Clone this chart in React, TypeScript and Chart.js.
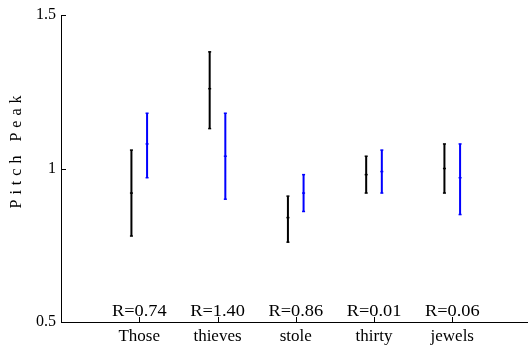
import React, { useEffect, useRef } from "react";
import { Chart, registerables } from "chart.js";
Chart.register(...registerables);

const categories = ["Those", "thieves", "stole", "thirty", "jewels"];
const rLabels = ["R=0.74", "R=1.40", "R=0.86", "R=0.01", "R=0.06"];
const blackLow = [0.78, 1.13, 0.76, 0.92, 0.92];
const blackMid = [0.92, 1.26, 0.84, 0.98, 1.0];
const blackHigh = [1.06, 1.38, 0.91, 1.04, 1.08];
const blueLow = [0.97, 0.9, 0.86, 0.92, 0.85];
const blueMid = [1.08, 1.04, 0.92, 0.99, 0.97];
const blueHigh = [1.18, 1.18, 0.98, 1.06, 1.08];
const yTicks = [0.5, 1, 1.5];
const rLabelY = 0.52;

const FONT = "Liberation Serif, Times New Roman, serif";

function buildSeries(low: number[], mid: number[], high: number[], offset: number) {
  const pts: { x: number; y: number | null }[] = [];
  low.forEach((lo, i) => {
    const x = i + 1 + offset;
    pts.push({ x, y: lo }, { x, y: mid[i] }, { x, y: high[i] }, { x, y: null });
  });
  return pts;
}

const decorPlugin = {
  id: "decor",
  afterDraw(chart: any) {
    const ctx = chart.ctx;
    const xs = chart.scales.x;
    const ys = chart.scales.y;
    const area = chart.chartArea;
    ctx.save();
    ctx.strokeStyle = "#000";
    ctx.lineWidth = 1;
    ctx.beginPath();
    yTicks.forEach((v) => {
      const py = Math.round(ys.getPixelForValue(v)) + 0.5;
      ctx.moveTo(area.left, py);
      ctx.lineTo(area.left + 5, py);
    });
    categories.forEach((_, i) => {
      const px = Math.round(xs.getPixelForValue(i + 1)) + 0.5;
      ctx.moveTo(px, area.bottom);
      ctx.lineTo(px, area.bottom - 5);
    });
    ctx.stroke();

    ctx.fillStyle = "#000";
    ctx.textAlign = "center";
    ctx.textBaseline = "alphabetic";
    ctx.font = `17px ${FONT}`;
    rLabels.forEach((t, i) => {
      const cx = xs.getPixelForValue(i + 1);
      const cy = ys.getPixelForValue(rLabelY);
      ctx.save();
      ctx.translate(cx, cy);
      ctx.scale(1.08, 1);
      ctx.fillText(t, 0, 0);
      ctx.restore();
    });

    ctx.translate(21, 152);
    ctx.rotate(-Math.PI / 2);
    ctx.font = `16px ${FONT}`;
    ctx.textAlign = "left";
    const label = "Pitch Peak";
    const gap = 5;
    let total = 0;
    const widths = Array.from(label).map((c) => ctx.measureText(c).width);
    widths.forEach((w, i) => (total += w + (i < widths.length - 1 ? gap : 0)));
    let x = -total / 2;
    Array.from(label).forEach((c, i) => {
      ctx.fillText(c, x, 0);
      x += widths[i] + gap;
    });
    ctx.restore();
  },
};

export default function App() {
  const ref = useRef<HTMLCanvasElement>(null);
  useEffect(() => {
    document.body.style.margin = "0";
    const chart = new Chart(ref.current!, {
      type: "line",
      data: {
        datasets: [
          {
            data: buildSeries(blackLow, blackMid, blackHigh, -0.1),
            borderColor: "#000",
            borderWidth: 2,
            pointStyle: "line",
            pointRadius: 1.5,
            pointBorderWidth: 1.5,
            pointBorderColor: "#000",
            spanGaps: false,
          },
          {
            data: buildSeries(blueLow, blueMid, blueHigh, 0.1),
            borderColor: "#0000ff",
            borderWidth: 2,
            pointStyle: "line",
            pointRadius: 1.5,
            pointBorderWidth: 1.5,
            pointBorderColor: "#0000ff",
            spanGaps: false,
          },
        ],
      },
      options: {
        animation: false,
        responsive: false,
        layout: { autoPadding: false, padding: { top: 15, left: 0, right: 0, bottom: 0 } },
        plugins: { legend: { display: false }, tooltip: { enabled: false } },
        scales: {
          x: {
            type: "linear",
            min: 0,
            max: 5.968,
            afterBuildTicks: (s: any) => {
              s.ticks = categories.map((_, i) => ({ value: i + 1 }));
            },
            afterFit: (s: any) => {
              s.height = 23;
            },
            ticks: {
              callback: (v: any) => categories[Number(v) - 1] ?? "",
              color: "#000",
              font: { family: FONT, size: 17 },
              padding: 4,
              maxRotation: 0,
              autoSkip: false,
            },
            grid: { display: false, drawTicks: false },
            border: { display: true, color: "#000", width: 1 },
          },
          y: {
            min: 0.5,
            max: 1.5,
            afterBuildTicks: (s: any) => {
              s.ticks = yTicks.map((v) => ({ value: v }));
            },
            afterFit: (s: any) => {
              s.width = 61;
            },
            ticks: {
              callback: (v: any) => String(v),
              color: "#000",
              font: { family: FONT, size: 16 },
              padding: 5,
            },
            grid: { display: false, drawTicks: false },
            border: { display: true, color: "#000", width: 1 },
          },
        },
      },
      plugins: [decorPlugin],
    });
    return () => chart.destroy();
  }, []);
  return (
    <div style={{ position: "fixed", left: 0, top: 0, width: 528, height: 345, background: "#fff" }}>
      <canvas ref={ref} width={528} height={345} style={{ width: 528, height: 345, display: "block" }} />
    </div>
  );
}
